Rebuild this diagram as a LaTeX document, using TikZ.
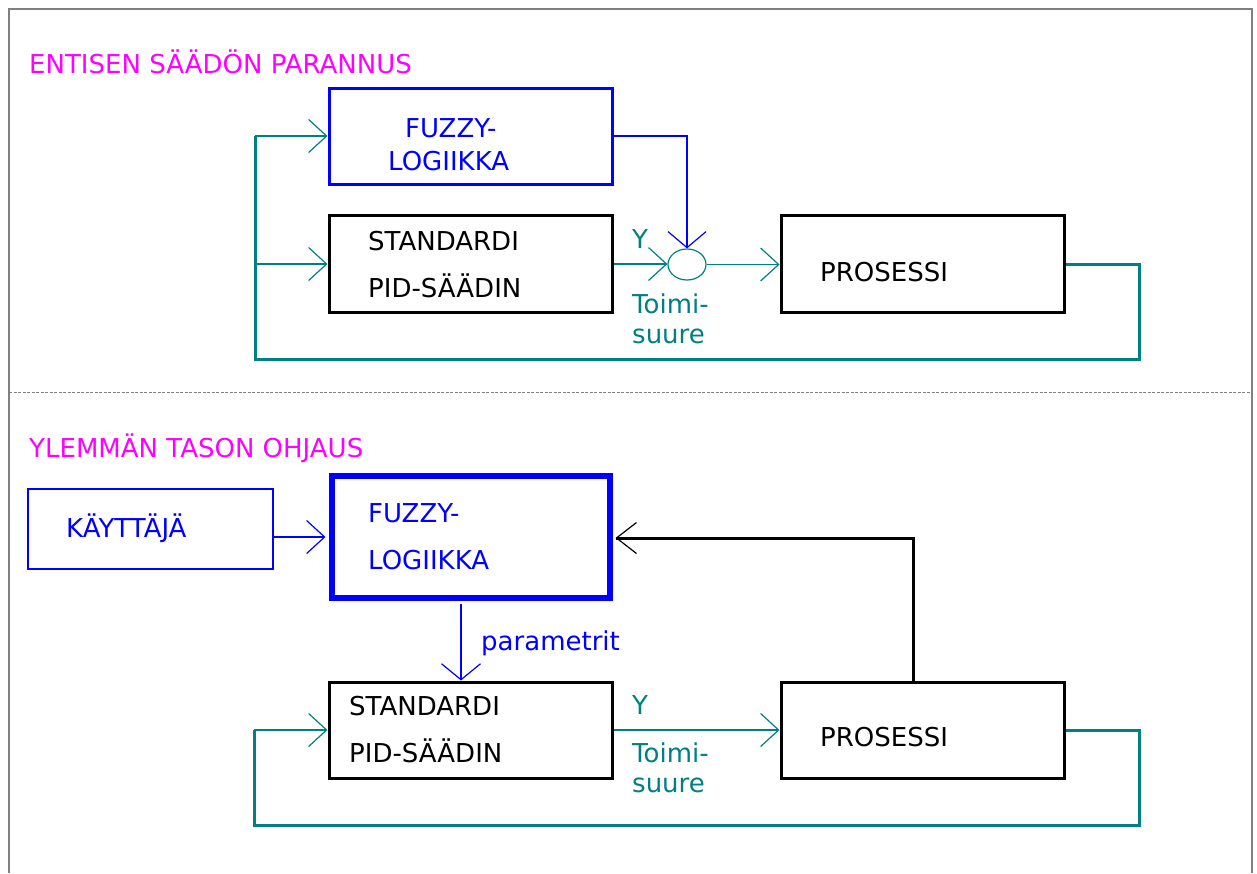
\documentclass[tikz,border=0pt]{standalone}
\usepackage{fontspec}
\setmainfont{DejaVu Sans}
\usetikzlibrary{arrows.meta,shapes.geometric,calc}
\definecolor{tealc}{HTML}{008080}
\definecolor{bluec}{HTML}{0000FF}
\definecolor{magc}{HTML}{FF00FF}
\definecolor{frame}{HTML}{808080}
\tikzset{
  txt/.style={anchor=base west,inner sep=0pt,font=\fontsize{26}{30}\selectfont},
  box/.style={draw,inner sep=0pt,line width=3pt,line join=miter},
  tealthick/.style={draw=tealc,line width=3pt},
  tealthin/.style={draw=tealc,line width=1.2pt},
  bluethin/.style={draw=bluec,line width=1.2pt},
  arr/.style={-{Straight Barb[length=18pt,width=33pt,line width=1.2pt]}},
  arrv/.style={-{Straight Barb[length=16pt,width=39pt,line width=1.2pt]}}
}
\begin{document}
\begin{tikzpicture}[x=1pt,y=-1pt]
\useasboundingbox (0,0) rectangle (1257,873);
\fill[white] (0,0) rectangle (1257,873);
% frame
\draw[frame,line width=2pt] (9,873) -- (9,9) -- (1252,9) -- (1252,873);
\draw[frame,line width=1pt,dash pattern=on 3pt off 1.5pt] (9,392) -- (1252,392);

% ---------- top section ----------
\node[txt,text=magc] (t1) at (29,73) {ENTISEN SÄÄDÖN PARANNUS};
\node[box,draw=bluec,minimum width=283pt,minimum height=96pt] (fuz1) at (470.5,136) {};
\node[txt,text=bluec] (fuz1a) at (405,137) {FUZZY-};
\node[txt,text=bluec] (fuz1b) at (388,170) {LOGIIKKA};
\node[box,minimum width=283pt,minimum height=97pt] (std1) at (470.5,264) {};
\node[txt] (std1a) at (368,250) {STANDARDI};
\node[txt] (std1b) at (368,297) {PID-SÄÄDIN};
\node[box,minimum width=283pt,minimum height=97pt] (pro1) at (922.5,264) {};
\node[txt] (pro1a) at (820,281) {PROSESSI};
\node[ellipse,draw=tealc,line width=1.2pt,minimum width=38pt,minimum height=31pt,inner sep=0pt] (sum) at (687,264.5) {};
\node[txt,text=tealc] (y1) at (632,248) {Y};
\node[txt,text=tealc] (tm1) at (632,313) {Toimi-};
\node[txt,text=tealc] (su1) at (632,343) {suure};

\draw[bluethin,-{Straight Barb[length=16pt,width=38pt,line width=1.2pt]}] (fuz1.east) -| (sum.north);
\draw[tealthin,arr] (std1.east) -- (std1.east -| sum.west);
\draw[tealthin,arr] (sum.east) -- (sum.east -| pro1.west);
\coordinate (c1) at (1139,264);
\coordinate (c2) at (1139,359);
\coordinate (c3) at (255,359);
\coordinate (fb1) at (255,136);
\coordinate (fb2) at (255,264);
\draw[tealthick,line join=miter] (pro1.east) -- (c1) -- (c2) -- (c3) -- (fb1);
\draw[tealthin,arr] (fb1) -- (fb1 -| fuz1.west);
\draw[tealthin,arr] (fb2) -- (fb2 -| std1.west);

% ---------- bottom section ----------
\node[txt,text=magc] (t2) at (29,457) {YLEMMÄN TASON OHJAUS};
\node[draw=bluec,line width=1.2pt,inner sep=0pt,minimum width=245pt,minimum height=80pt] (kay) at (150.5,529) {};
\node[txt,text=bluec] (kaya) at (66,537) {KÄYTTÄJÄ};
\node[box,draw=bluec,line width=6pt,minimum width=278pt,minimum height=122pt] (fuz2) at (470.5,537) {};
\node[txt,text=bluec] (fuz2a) at (368,522) {FUZZY-};
\node[txt,text=bluec] (fuz2b) at (368,569) {LOGIIKKA};
\node[box,minimum width=283pt,minimum height=96pt] (std2) at (470.5,730) {};
\node[txt] (std2a) at (349,715) {STANDARDI};
\node[txt] (std2b) at (349,762) {PID-SÄÄDIN};
\node[box,minimum width=283pt,minimum height=96pt] (pro2) at (922.5,730) {};
\node[txt] (pro2a) at (820,746) {PROSESSI};
\node[txt,text=bluec] (par) at (481,650) {parametrit};
\node[txt,text=tealc] (y2) at (632,714) {Y};
\node[txt,text=tealc] (tm2) at (632,762) {Toimi-};
\node[txt,text=tealc] (su2) at (632,792) {suure};

\draw[bluethin,arr] (kay.east |- fuz2.west) -- ($(fuz2.west)+(-3,0)$);
\coordinate (px) at (461,640);
\draw[bluethin,arrv] ($(px |- fuz2.south)+(0,3)$) -- (px |- std2.north);
\draw[tealthin,arr] (std2.east) -- (pro2.west);
\coordinate (k1) at (913,538);
\coordinate (k2) at ($(k1 -| fuz2.east)+(3,0)$);
\draw[line width=3pt,line join=miter] (pro2.north -| k1) -- (k1) -- (k2);
\draw[line width=1.2pt,-{Straight Barb[length=20pt,width=31pt,line width=1.2pt]}] ($(k2)+(2,0)$) -- (k2);
\coordinate (d1) at (1139,730);
\coordinate (d2) at (1139,825);
\coordinate (d3) at (254,825);
\coordinate (fb3) at (254,730);
\draw[tealthick,line join=miter] (pro2.east) -- (d1) -- (d2) -- (d3) -- (fb3);
\draw[tealthin,arr] (fb3) -- (std2.west);
\end{tikzpicture}
\end{document}
